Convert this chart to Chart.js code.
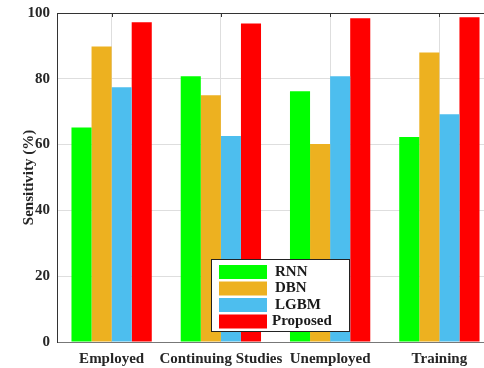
<!DOCTYPE html>
<html>
<head>
<meta charset="utf-8">
<script src="https://cdn.jsdelivr.net/npm/chart.js@4.4.0/dist/chart.umd.min.js"></script>
<style>
  html, body { margin: 0; padding: 0; background: #fff; overflow: hidden; width: 484px; height: 368px; }
  #wrap { width: 494px; height: 368px; }
</style>
</head>
<body>
<div id="wrap"><canvas id="chart-sensitivity" width="494" height="368"></canvas></div>
<script>
// data
const categories = ['Employed', 'Continuing Studies', 'Unemployed', 'Training'];
const seriesNames = ['RNN', 'DBN', 'LGBM', 'Proposed'];
const rnnValues = [65.2, 80.8, 76.2, 62.3];
const dbnValues = [89.8, 75.0, 60.2, 88.0];
const lgbmValues = [77.4, 62.6, 80.8, 69.2];
const proposedValues = [97.2, 96.8, 98.4, 98.7];
const yTicks = [0, 20, 40, 60, 80, 100];

const colors = ['#00ff00', '#edb120', '#4dbeee', '#ff0000'];
const allValues = [rnnValues, dbnValues, lgbmValues, proposedValues];
const serif = '"Liberation Serif", "Times New Roman", serif';

// top box line with inward ticks + legend inside the plot
const boxAndLegend = {
  id: 'boxAndLegend',
  afterDraw(chart) {
    const c = chart.ctx;
    const area = chart.chartArea;
    const xs = chart.scales.x;
    c.save();
    c.strokeStyle = '#333';
    c.lineWidth = 1;
    c.beginPath();
    c.moveTo(area.left, area.top + 0.5);
    c.lineTo(area.right, area.top + 0.5);
    xs.ticks.forEach((t, i) => {
      const px = Math.round(xs.getPixelForTick(i)) + 0.5;
      c.moveTo(px, area.top);
      c.lineTo(px, area.top + 4);
    });
    c.stroke();

    // legend box
    const lx = 211, ly = 259, lw = 138, lh = 72;
    c.fillStyle = '#fff';
    c.fillRect(lx, ly, lw, lh);
    c.strokeStyle = '#222';
    c.strokeRect(lx + 0.5, ly + 0.5, lw, lh);
    c.font = 'bold 15px ' + serif;
    c.textBaseline = 'middle';
    chart.data.datasets.forEach((ds, i) => {
      const cy = ly + 13 + i * 16.5;
      c.fillStyle = ds.backgroundColor;
      c.fillRect(lx + 8, cy - 7, 48, 14);
      c.fillStyle = '#1a1a1a';
      c.fillText(ds.label, i === 3 ? lx + 61 : lx + 64, cy);
    });
    c.restore();
  }
};

const ctx = document.getElementById('chart-sensitivity');
new Chart(ctx, {
  type: 'bar',
  data: {
    labels: categories,
    datasets: seriesNames.map((name, i) => ({
      label: name,
      data: allValues[i],
      backgroundColor: colors[i],
      borderWidth: 0,
      barPercentage: 1.0,
      categoryPercentage: 0.735
    }))
  },
  options: {
    responsive: false,
    animation: false,
    layout: { padding: { top: 13, left: 0, right: 0, bottom: 0 } },
    plugins: {
      legend: { display: false },
      tooltip: { enabled: false }
    },
    scales: {
      x: {
        afterFit: (s) => { s.height = 26; },
        grid: { offset: false, color: '#dedede', drawTicks: false },
        border: { color: '#777', width: 1 },
        ticks: {
          color: '#262626',
          padding: 8,
          maxRotation: 0,
          autoSkip: false,
          font: { family: serif, size: 15, weight: 'bold' }
        }
      },
      y: {
        min: 0,
        max: 100,
        afterFit: (s) => { s.width = 57; s.paddingTop = 0; s.paddingBottom = 0; },
        afterBuildTicks: (s) => { s.ticks = yTicks.map(v => ({ value: v })); },
        grid: { color: '#dedede', drawTicks: false },
        border: { color: '#333', width: 1 },
        ticks: {
          color: '#262626',
          padding: 7,
          font: { family: serif, size: 15, weight: 'bold' }
        },
        title: {
          display: true,
          text: 'Sensitivity (%)',
          color: '#262626',
          padding: { top: 20, bottom: 0 },
          font: { family: serif, size: 15, weight: 'bold' }
        }
      }
    }
  },
  plugins: [boxAndLegend]
});
</script>
</body>
</html>
